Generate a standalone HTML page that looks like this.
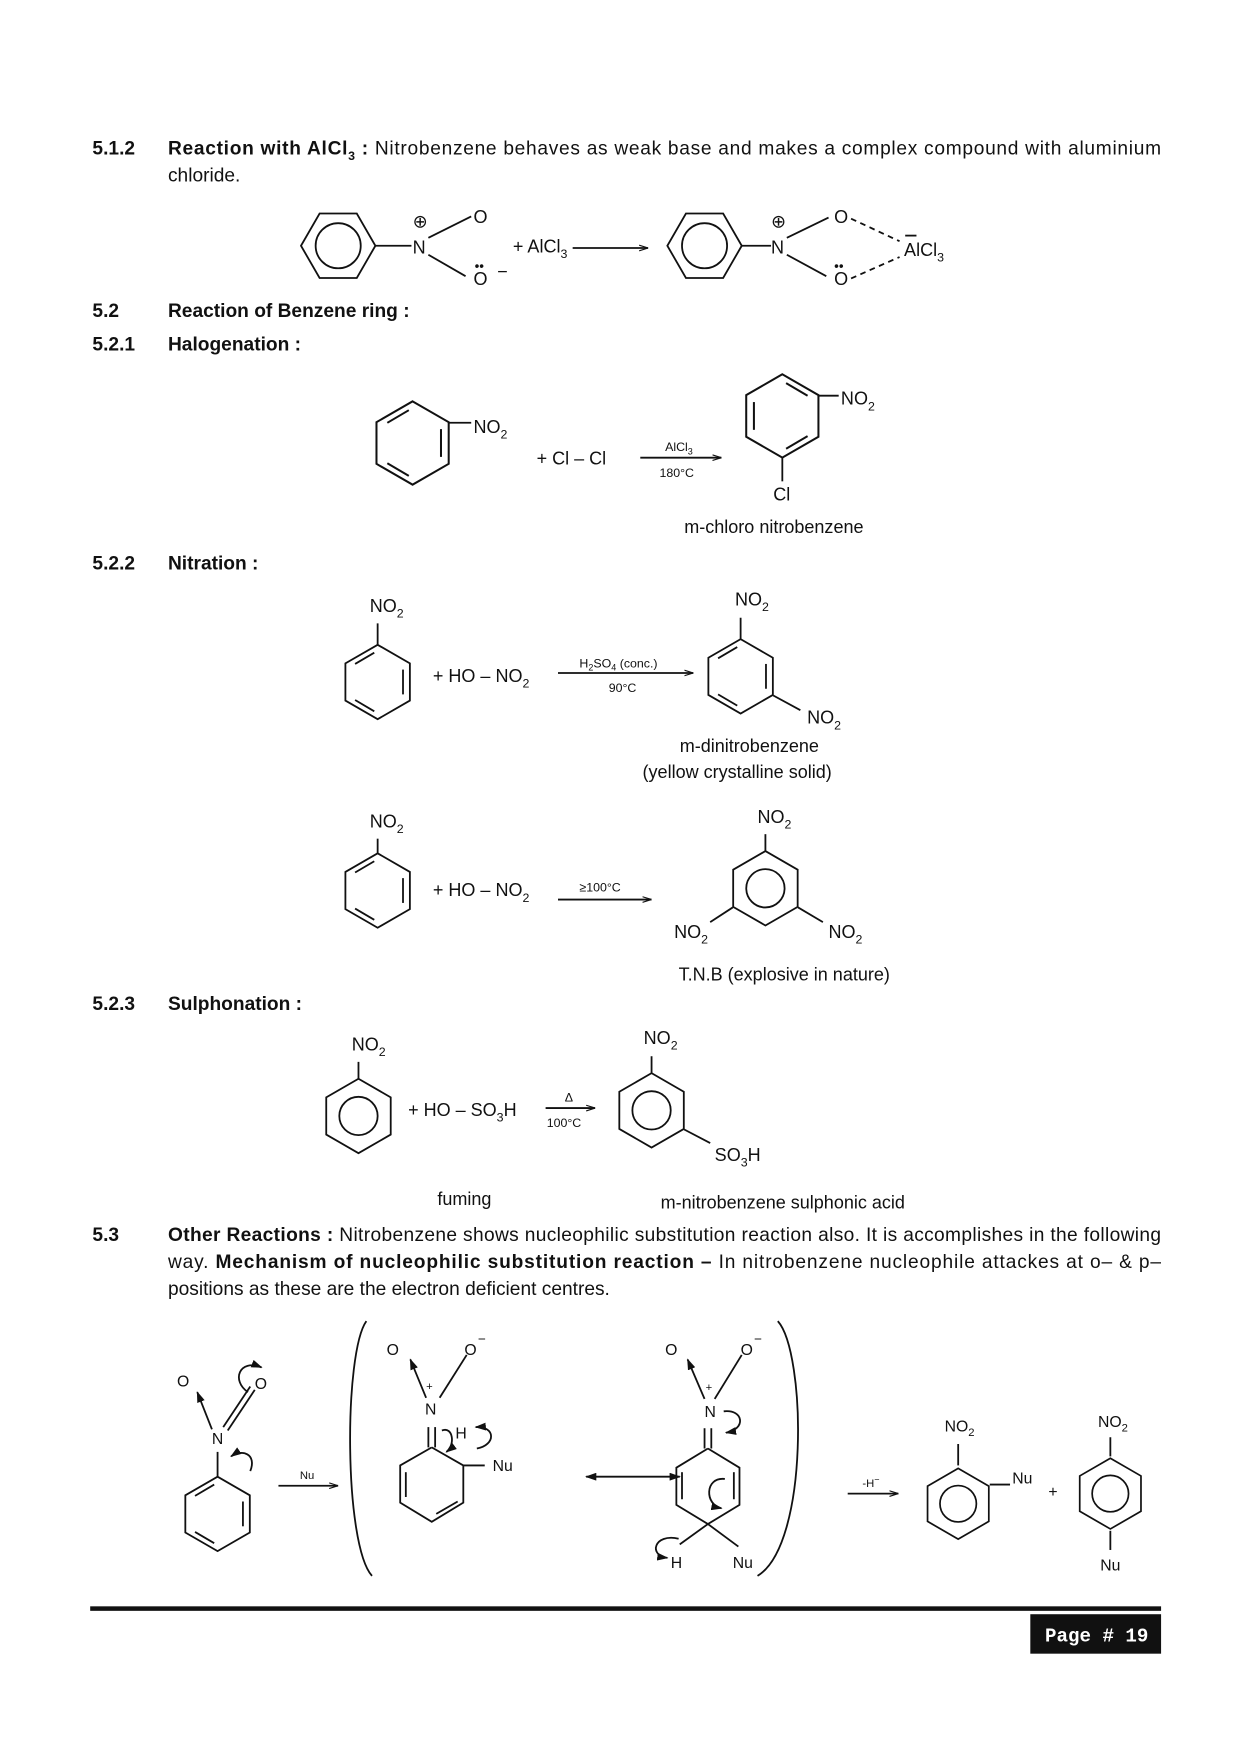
<!DOCTYPE html>
<html><head><meta charset="utf-8"><style>
html,body{margin:0;padding:0;background:#fff}
svg{display:block}
text{font-family:"Liberation Sans",Arial,sans-serif;fill:#111}
.b{font-weight:bold}
.s{font-size:17px}
.c{font-size:16px}
.sm{font-size:11px}
line,polyline,path,polygon,circle{stroke:#111;stroke-width:1.6;fill:none}
</style></head><body>
<svg width="1240" height="1754" viewBox="0 0 1100 1556" xmlns="http://www.w3.org/2000/svg">
<defs>
<marker id="ah" markerUnits="userSpaceOnUse" markerWidth="10" markerHeight="7" refX="9" refY="3.5" orient="auto-start-reverse"><path d="M0,0 L10,3.5 L0,7 z" style="fill:#111;stroke:none"/></marker>
<marker id="as" markerUnits="userSpaceOnUse" markerWidth="8" markerHeight="6" refX="8" refY="3" orient="auto"><path d="M0,0.5 L8,3 L0,5.5" style="fill:none;stroke:#111;stroke-width:1"/></marker>
<g id="hx"><polygon points="0,-33 28.6,-16.5 28.6,16.5 0,33 -28.6,16.5 -28.6,-16.5"/></g>
<g id="hxc"><polygon points="0,-33 28.6,-16.5 28.6,16.5 0,33 -28.6,16.5 -28.6,-16.5"/><circle r="17"/></g>
<g id="hxk"><polygon points="0,-33 28.6,-16.5 28.6,16.5 0,33 -28.6,16.5 -28.6,-16.5"/><line x1="22.5" y1="-11" x2="22.5" y2="11"/><line x1="-3" y1="26" x2="-20" y2="16"/><line x1="-20" y1="-16" x2="-3" y2="-26"/></g>
<g id="hxf"><polygon points="33,0 16.5,28.6 -16.5,28.6 -33,0 -16.5,-28.6 16.5,-28.6"/><circle r="20"/></g>
</defs>

<!-- 5.1.2 -->
<text x="82" y="137" class="s b">5.1.2</text>
<text x="149" y="137" class="s" textLength="881" lengthAdjust="spacing"><tspan class="b">Reaction with AlCl</tspan><tspan class="b" font-size="11" dy="5">3</tspan><tspan class="b" dy="-5"> :</tspan> Nitrobenzene behaves as weak base and makes a complex compound with aluminium</text>
<text x="149" y="161" class="s">chloride.</text>

<use href="#hxf" x="300" y="218"/>
<line x1="333" y1="218" x2="365" y2="218"/>
<text x="366" y="225" class="c">N</text>
<text x="366" y="202" class="c">⊕</text>
<line x1="380" y1="211" x2="418" y2="192"/>
<text x="420" y="198" class="c">O</text>
<line x1="380" y1="226" x2="413" y2="245"/>
<text x="420" y="253" class="c">O</text>
<text x="421" y="240" font-size="12">••</text>
<text x="441" y="246" class="c">−</text>
<text x="455" y="224" class="c">+ AlCl<tspan font-size="11" dy="5">3</tspan></text>
<line x1="508" y1="220" x2="575" y2="220" marker-end="url(#as)"/>
<use href="#hxf" x="625" y="218"/>
<line x1="658" y1="218" x2="684" y2="218"/>
<text x="684" y="225" class="c">N</text>
<text x="684" y="202" class="c">⊕</text>
<line x1="698" y1="211" x2="735" y2="193"/>
<text x="740" y="198" class="c">O</text>
<line x1="698" y1="226" x2="733" y2="245"/>
<text x="740" y="253" class="c">O</text>
<text x="740" y="240" font-size="12">••</text>
<line x1="755" y1="194" x2="798" y2="214" stroke-dasharray="5,4"/>
<line x1="755" y1="247" x2="798" y2="228" stroke-dasharray="5,4"/>
<text x="802" y="227" class="c">AlCl<tspan font-size="11" dy="5">3</tspan></text>
<line x1="803" y1="209" x2="813" y2="209"/>

<!-- 5.2 -->
<text x="82" y="281" class="s b">5.2</text>
<text x="149" y="281" class="s b">Reaction of Benzene ring :</text>
<text x="82" y="311" class="s b">5.2.1</text>
<text x="149" y="311" class="s b">Halogenation :</text>

<g transform="translate(366,393) scale(1.12)"><use href="#hxk"/></g>
<line x1="398" y1="375" x2="418" y2="375"/>
<text x="420" y="384" class="c">NO<tspan font-size="11" dy="5">2</tspan></text>
<text x="476" y="412" class="c">+ Cl – Cl</text>
<line x1="568" y1="406" x2="640" y2="406" marker-end="url(#as)"/>
<text x="590" y="400" font-size="11">AlCl<tspan font-size="8" dy="3">3</tspan></text>
<text x="585" y="423" font-size="11">180°C</text>
<g transform="translate(694,369) scale(1.12) scale(-1,1)"><use href="#hxk"/></g>
<line x1="726" y1="351" x2="744" y2="351"/>
<text x="746" y="359" class="c">NO<tspan font-size="11" dy="5">2</tspan></text>
<line x1="694" y1="406" x2="694" y2="427"/>
<text x="686" y="444" class="c">Cl</text>
<text x="607" y="473" class="c">m-chloro nitrobenzene</text>

<!-- 5.2.2 -->
<text x="82" y="505" class="s b">5.2.2</text>
<text x="149" y="505" class="s b">Nitration :</text>

<text x="328" y="543" class="c">NO<tspan font-size="11" dy="5">2</tspan></text>
<line x1="335" y1="553" x2="335" y2="572"/>
<use href="#hxk" x="335" y="605"/>
<text x="384" y="605" class="c">+ HO – NO<tspan font-size="11" dy="5">2</tspan></text>
<line x1="495" y1="597" x2="615" y2="597" marker-end="url(#as)"/>
<text x="514" y="592" font-size="11">H<tspan font-size="8" dy="3">2</tspan><tspan dy="-3">SO</tspan><tspan font-size="8" dy="3">4</tspan><tspan dy="-3"> (conc.)</tspan></text>
<text x="540" y="614" font-size="11">90°C</text>
<text x="652" y="537" class="c">NO<tspan font-size="11" dy="5">2</tspan></text>
<line x1="657" y1="548" x2="657" y2="567"/>
<use href="#hxk" x="657" y="600"/>
<line x1="686" y1="617" x2="710" y2="630"/>
<text x="716" y="642" class="c">NO<tspan font-size="11" dy="5">2</tspan></text>
<text x="603" y="667" class="c">m-dinitrobenzene</text>
<text x="570" y="690" class="c">(yellow crystalline solid)</text>

<text x="328" y="734" class="c">NO<tspan font-size="11" dy="5">2</tspan></text>
<line x1="335" y1="744" x2="335" y2="757"/>
<use href="#hxk" x="335" y="790"/>
<text x="384" y="795" class="c">+ HO – NO<tspan font-size="11" dy="5">2</tspan></text>
<line x1="495" y1="798" x2="578" y2="798" marker-end="url(#as)"/>
<text x="514" y="791" font-size="11">≥100°C</text>
<text x="672" y="730" class="c">NO<tspan font-size="11" dy="5">2</tspan></text>
<line x1="679" y1="740" x2="679" y2="755"/>
<use href="#hxc" x="679" y="788"/>
<line x1="650" y1="805" x2="630" y2="818"/>
<line x1="708" y1="805" x2="730" y2="818"/>
<text x="598" y="832" class="c">NO<tspan font-size="11" dy="5">2</tspan></text>
<text x="735" y="832" class="c">NO<tspan font-size="11" dy="5">2</tspan></text>
<text x="602" y="870" class="c">T.N.B (explosive in nature)</text>

<!-- 5.2.3 -->
<text x="82" y="896" class="s b">5.2.3</text>
<text x="149" y="896" class="s b">Sulphonation :</text>
<text x="312" y="932" class="c">NO<tspan font-size="11" dy="5">2</tspan></text>
<line x1="318" y1="942" x2="318" y2="957"/>
<use href="#hxc" x="318" y="990"/>
<text x="362" y="990" class="c">+ HO – SO<tspan font-size="11" dy="5">3</tspan><tspan dy="-5">H</tspan></text>
<line x1="484" y1="983" x2="528" y2="983" marker-end="url(#as)"/>
<text x="501" y="977" font-size="11">Δ</text>
<text x="485" y="1000" font-size="11">100°C</text>
<text x="571" y="926" class="c">NO<tspan font-size="11" dy="5">2</tspan></text>
<line x1="578" y1="937" x2="578" y2="952"/>
<use href="#hxc" x="578" y="985"/>
<line x1="607" y1="1002" x2="630" y2="1014"/>
<text x="634" y="1030" class="c">SO<tspan font-size="11" dy="5">3</tspan><tspan dy="-5">H</tspan></text>
<text x="388" y="1069" class="c">fuming</text>
<text x="586" y="1072" class="c">m-nitrobenzene sulphonic acid</text>

<!-- 5.3 -->
<text x="82" y="1101" class="s b">5.3</text>
<text x="149" y="1101" class="s" textLength="881" lengthAdjust="spacing"><tspan class="b">Other Reactions :</tspan> Nitrobenzene shows nucleophilic substitution reaction also. It is accomplishes in the following</text>
<text x="149" y="1125" class="s" textLength="881" lengthAdjust="spacing">way. <tspan class="b">Mechanism of nucleophilic substitution reaction –</tspan> In nitrobenzene nucleophile attackes at o– &amp; p–</text>
<text x="149" y="1149" class="s">positions as these are the electron deficient centres.</text>

<!-- mechanism -->
<use href="#hxk" x="193" y="1343"/>
<line x1="193" y1="1310" x2="193" y2="1288"/>
<text x="188" y="1281" font-size="14">N</text>
<line x1="188" y1="1268" x2="175" y2="1235" marker-end="url(#ah)"/>
<line x1="198" y1="1266" x2="222" y2="1230"/><line x1="202" y1="1269" x2="226" y2="1233"/>
<text x="157" y="1230" font-size="14">O</text>
<text x="226" y="1232" font-size="14">O</text>
<path d="M220,1235 C205,1225 212,1205 232,1213" marker-end="url(#ah)"/>
<path d="M222,1305 C228,1290 215,1285 205,1292" marker-end="url(#ah)"/>
<line x1="247" y1="1318" x2="300" y2="1318" marker-end="url(#as)"/>
<text x="266" y="1312" font-size="10">Nu</text>

<path d="M325,1172 C305,1200 305,1370 330,1398"/>
<polyline points="383,1284 411,1300 411,1333 383,1350 355,1333 355,1300 383,1284"/>
<line x1="360" y1="1306" x2="360" y2="1328"/>
<line x1="387" y1="1343" x2="406" y2="1332"/>
<line x1="380" y1="1284" x2="380" y2="1266"/><line x1="386" y1="1284" x2="386" y2="1266"/>
<text x="377" y="1255" font-size="14">N</text>
<text x="378" y="1233" font-size="10">+</text>
<line x1="378" y1="1240" x2="364" y2="1206" marker-end="url(#ah)"/>
<line x1="390" y1="1240" x2="414" y2="1202"/>
<text x="343" y="1202" font-size="14">O</text>
<text x="412" y="1202" font-size="14">O</text><text x="424" y="1192" font-size="12">−</text>
<text x="404" y="1276" font-size="14">H</text>
<line x1="411" y1="1300" x2="430" y2="1300"/>
<text x="437" y="1305" font-size="14">Nu</text>
<path d="M392,1269 C402,1265 404,1282 396,1288" marker-end="url(#ah)"/>
<path d="M423,1285 C440,1282 440,1265 422,1266" marker-end="url(#ah)"/>
<line x1="520" y1="1310" x2="603" y2="1310" marker-start="url(#ah)" marker-end="url(#ah)"/>
<polyline points="628,1285 656,1302 656,1335 628,1352 600,1335 600,1302 628,1285"/>
<line x1="605" y1="1306" x2="605" y2="1330"/><line x1="651" y1="1306" x2="651" y2="1330"/>
<line x1="625" y1="1285" x2="625" y2="1267"/><line x1="631" y1="1285" x2="631" y2="1267"/>
<line x1="628" y1="1352" x2="603" y2="1370"/><line x1="628" y1="1352" x2="655" y2="1372"/>
<text x="625" y="1257" font-size="14">N</text>
<text x="626" y="1234" font-size="10">+</text>
<line x1="625" y1="1241" x2="610" y2="1206" marker-end="url(#ah)"/>
<line x1="634" y1="1241" x2="658" y2="1202"/>
<text x="590" y="1202" font-size="14">O</text>
<text x="657" y="1202" font-size="14">O</text><text x="669" y="1192" font-size="12">−</text>
<path d="M642,1252 C660,1250 662,1268 644,1271" marker-end="url(#ah)"/>
<path d="M643,1312 C625,1310 625,1335 640,1338" marker-end="url(#ah)"/>
<path d="M602,1365 C580,1360 575,1380 592,1382" marker-end="url(#ah)"/>
<text x="595" y="1391" font-size="14">H</text>
<text x="650" y="1391" font-size="14">Nu</text>
<path d="M690,1172 C715,1200 718,1370 672,1398"/>
<line x1="752" y1="1325" x2="797" y2="1325" marker-end="url(#as)"/>
<text x="765" y="1319" font-size="10">-H<tspan font-size="8" dy="-4">−</tspan></text>

<use href="#hxc" x="850" y="1334" transform="translate(850,1334) scale(0.95) translate(-850,-1334)"/>
<line x1="850" y1="1281" x2="850" y2="1300"/>
<text x="838" y="1270" font-size="14">NO<tspan font-size="10" dy="4">2</tspan></text>
<line x1="878" y1="1317" x2="896" y2="1317"/>
<text x="898" y="1316" font-size="14">Nu</text>
<text x="930" y="1328" font-size="14">+</text>
<use href="#hxc" x="985" y="1325" transform="translate(985,1325) scale(0.95) translate(-985,-1325)"/>
<line x1="985" y1="1275" x2="985" y2="1292"/>
<line x1="985" y1="1358" x2="985" y2="1375"/>
<text x="974" y="1266" font-size="14">NO<tspan font-size="10" dy="4">2</tspan></text>
<text x="976" y="1393" font-size="14">Nu</text>

<!-- footer -->
<rect x="80" y="1425" width="950" height="4" style="fill:#111;stroke:none"/>
<rect x="914" y="1432" width="116" height="35" style="fill:#111;stroke:none"/>
<text x="927" y="1456" style="fill:#fff;font-weight:bold;font-size:17px;font-family:'Liberation Mono','DejaVu Sans Mono',monospace">Page # 19</text>
</svg>
</body></html>
